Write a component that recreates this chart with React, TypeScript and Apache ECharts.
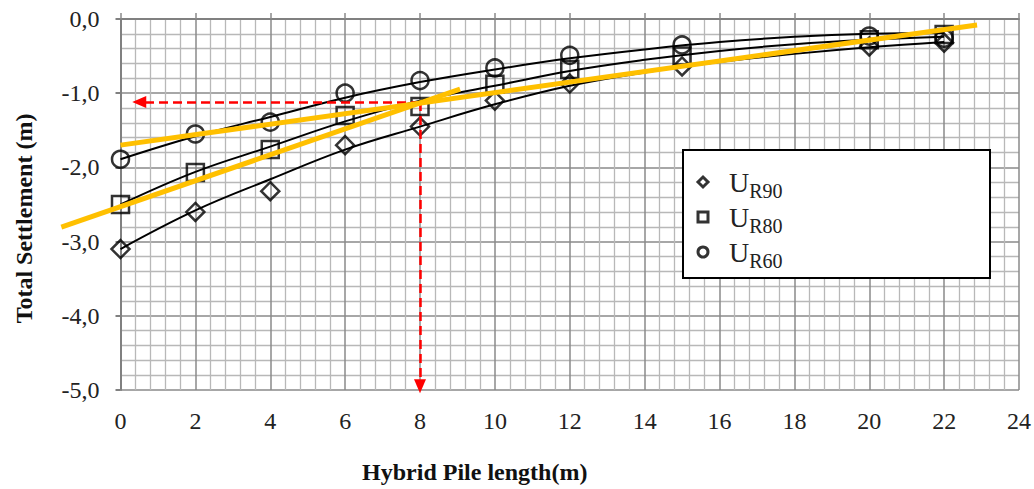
import React, { useEffect, useRef } from "react";
import * as echarts from "echarts";

// ---- data ----
const xPoints = [0, 2, 4, 6, 8, 10, 12, 15, 20, 22];
const ur90 = [-3.1, -2.6, -2.32, -1.7, -1.45, -1.1, -0.87, -0.64, -0.37, -0.32];
const ur80 = [-2.5, -2.07, -1.76, -1.3, -1.18, -0.88, -0.68, -0.5, -0.28, -0.21];
const ur60 = [-1.89, -1.55, -1.39, -1.0, -0.83, -0.66, -0.49, -0.35, -0.23, -0.26];

// fitted (trend) curves
const curveX = [0, 2, 4, 6, 8, 10, 12, 14, 16, 18, 20, 22];
const curve90 = [-3.1, -2.58, -2.16, -1.76, -1.45, -1.15, -0.9, -0.72, -0.58, -0.47, -0.38, -0.31];
const curve80 = [-2.5, -2.06, -1.72, -1.38, -1.1, -0.9, -0.7, -0.55, -0.43, -0.34, -0.28, -0.24];
const curve60 = [-1.89, -1.58, -1.32, -1.06, -0.85, -0.68, -0.53, -0.41, -0.31, -0.24, -0.2, -0.19];

// yellow straight lines: [x, y] end points
const yellowShallow = [[0, -1.7], [22.88, -0.08]];
const yellowSteep = [[-1.58, -2.76], [9.07, -0.93]];

// red guide arrows
const guideX = 8;
const guideY = -1.12;
const arrowLeftX = 0.5;
const arrowBottomY = -4.95;

const seriesNames = ["UR90", "UR80", "UR60"];
const xTicks = { min: 0, max: 24, interval: 2 };
const yTicks = { min: -5, max: 0, interval: 1 };
// wider (hidden) x range so the yellow line can run left of the y axis
const xWide = { min: -2, max: 24 };

const xAxisTitle = "Hybrid Pile length(m)";
const yAxisTitle = "Total Settlement (m)";

const FONT = "'Liberation Serif', 'Times New Roman', serif";

function zip(xs: number[], ys: number[]) {
  return xs.map((x, i) => [x, ys[i]]);
}

export default function App() {
  const ref = useRef<HTMLDivElement>(null);
  useEffect(() => {
    if (!ref.current) return;
    const chart = echarts.init(ref.current, null, { renderer: "svg" });
    const markerStyle = {
      color: "rgba(255,255,255,0)",
      borderColor: "#000",
      borderWidth: 2.5,
    };
    const curve = (name: string, ys: number[]) => ({
      name: name + "_fit",
      type: "line",
      data: zip(curveX, ys),
      smooth: 0.4,
      showSymbol: false,
      symbol: "none",
      lineStyle: { color: "#000", width: 2 },
      z: 2,
      silent: true,
    });
    const scatter = (name: string, ys: number[], symbol: string, size: number) => ({
      name,
      type: "scatter",
      data: zip(xPoints, ys),
      symbol,
      symbolSize: size,
      itemStyle: markerStyle,
      z: 3,
    });
    const plotLeft = 120.5;
    const plotRight = 15;
    const plotW = 1034 - plotLeft - plotRight;
    const unit = plotW / (xTicks.max - xTicks.min);
    const wideLeft = plotLeft - (xTicks.min - xWide.min) * unit;
    const yellow = (data: number[][], axisIdx: number) => ({
      type: "line",
      data,
      xAxisIndex: axisIdx,
      yAxisIndex: axisIdx,
      clip: false,
      showSymbol: false,
      symbol: "none",
      lineStyle: { color: "#FFC000", width: 5 },
      z: 5,
      silent: true,
    });
    chart.setOption({
      animation: false,
      backgroundColor: "#fff",
      grid: [
        { left: plotLeft, right: plotRight, top: 19, bottom: 93, containLabel: false },
        { left: wideLeft, right: plotRight, top: 19, bottom: 93, containLabel: false, show: false },
      ],
      xAxis: [
        {
          type: "value",
          gridIndex: 0,
          min: xTicks.min,
          max: xTicks.max,
          interval: xTicks.interval,
          name: xAxisTitle,
          nameLocation: "middle",
          nameGap: 70,
          nameTextStyle: {
            fontFamily: FONT,
            fontWeight: "bold",
            fontSize: 24,
            color: "#111",
            padding: [0, 190, 0, 0],
          },
          axisLine: { show: true, lineStyle: { color: "#808080", width: 2 } },
          axisTick: { show: false },
          axisLabel: { fontFamily: FONT, fontSize: 24, color: "#222", margin: 19 },
          splitLine: { show: true, lineStyle: { color: "#8a8a8a", width: 1.5 } },
          minorTick: { show: false, splitNumber: 5 },
          minorSplitLine: { show: true, lineStyle: { color: "#b8b8b8", width: 1.3 } },
        },
        {
          type: "value",
          gridIndex: 1,
          min: xWide.min,
          max: xWide.max,
          show: false,
        },
        {
          type: "value",
          gridIndex: 0,
          position: "top",
          min: xTicks.min,
          max: xTicks.max,
          interval: xTicks.interval,
          axisLine: { show: false },
          axisTick: { show: true, length: 6, lineStyle: { color: "#8a8a8a", width: 1.5 } },
          axisLabel: { show: false },
          splitLine: { show: false },
        },
      ],
      yAxis: [
        {
          type: "value",
          gridIndex: 0,
          min: yTicks.min,
          max: yTicks.max,
          interval: yTicks.interval,
          name: yAxisTitle,
          nameLocation: "middle",
          nameGap: 85,
          nameRotate: 90,
          nameTextStyle: {
            fontFamily: FONT,
            fontWeight: "bold",
            fontSize: 24,
            color: "#111",
            padding: [0, 28, 0, 0],
          },
          axisLine: { show: true, lineStyle: { color: "#808080", width: 2 } },
          axisTick: { show: true, length: 5, lineStyle: { color: "#808080", width: 2 } },
          axisLabel: {
            fontFamily: FONT,
            fontSize: 24,
            color: "#222",
            margin: 21,
            formatter: (v: number) => v.toFixed(1).replace(".", ","),
          },
          splitLine: { show: true, lineStyle: { color: "#8a8a8a", width: 1.5 } },
          minorTick: { show: false, splitNumber: 5 },
          minorSplitLine: { show: true, lineStyle: { color: "#b8b8b8", width: 1.3 } },
        },
        {
          type: "value",
          gridIndex: 1,
          min: yTicks.min,
          max: yTicks.max,
          show: false,
        },
      ],
      legend: {
        data: seriesNames,
        orient: "vertical",
        left: 696.5,
        top: 168,
        padding: 0,
        itemGap: 2,
        itemWidth: 10,
        itemHeight: 10,
        selectedMode: false,
        z: 60,
        itemStyle: { borderWidth: 3 },
        formatter: (name: string) => `{u|U}{s|${name.slice(1)}}`,
        textStyle: {
          fontFamily: FONT,
          color: "#222",
          rich: {
            u: {
              fontFamily: FONT,
              fontSize: 28,
              lineHeight: 28,
              color: "#222",
              verticalAlign: "top",
              padding: [0, 0, 0, 16],
            },
            s: {
              fontFamily: FONT,
              fontSize: 20,
              lineHeight: 20,
              color: "#222",
              verticalAlign: "top",
              padding: [13, 0, 0, 0],
            },
          },
        },
      },
      graphic: [
        {
          type: "rect",
          z: 50,
          shape: { x: 683, y: 150, width: 307, height: 128 },
          style: { fill: "#fff", stroke: "#000", lineWidth: 2 },
          silent: true,
        },
      ],
      series: [
        curve("UR90", curve90),
        curve("UR80", curve80),
        curve("UR60", curve60),
        scatter("UR90", ur90, "diamond", 18),
        scatter("UR80", ur80, "rect", 17),
        scatter("UR60", ur60, "circle", 17),
        {
          name: "guide",
          type: "line",
          data: [],
          z: 4,
          silent: true,
          markLine: {
            silent: true,
            symbol: ["none", "triangle"],
            symbolSize: [12, 14],
            label: { show: false },
            lineStyle: { color: "#ff0000", width: 2.5, type: [9, 5] },
            data: [
              [{ coord: [guideX, guideY] }, { coord: [arrowLeftX, guideY] }],
              [{ coord: [guideX, guideY] }, { coord: [guideX, arrowBottomY] }],
            ],
          },
        },
        yellow(yellowShallow, 0),
        yellow(yellowSteep, 1),
      ],
    });
    return () => chart.dispose();
  }, []);
  return (
    <div
      ref={ref}
      style={{ position: "fixed", left: 0, top: 0, width: 1034, height: 489, background: "#fff" }}
    />
  );
}
